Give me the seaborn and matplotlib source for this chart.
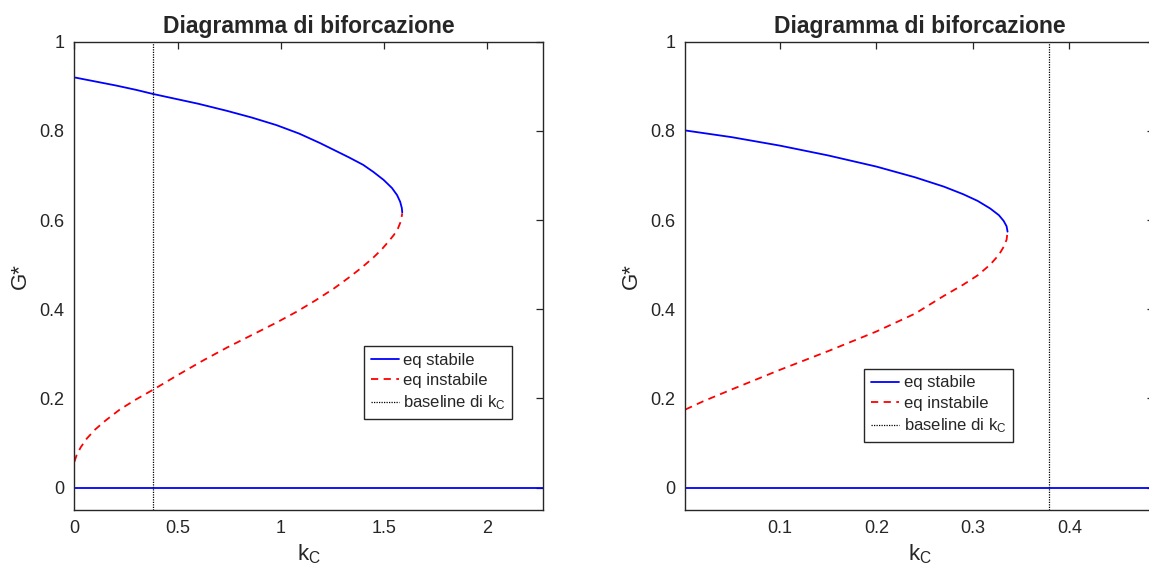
import numpy as np
import pandas as pd
import matplotlib
matplotlib.use("Agg")
import matplotlib.pyplot as plt
import seaborn as sns
from matplotlib.lines import Line2D

sns.set_style("white")
plt.rcParams["font.family"] = ["Liberation Sans", "DejaVu Sans"]
plt.rcParams["mathtext.fontset"] = "custom"
plt.rcParams["mathtext.rm"] = "Liberation Sans"
plt.rcParams["mathtext.it"] = "Liberation Sans:italic"

# ---- left panel: equilibrium branches G*(k_C) ----
left_stable_k = [0.00, 0.10, 0.20, 0.30, 0.38, 0.50, 0.60, 0.74, 0.86, 0.98, 1.09,
                 1.19, 1.26, 1.33, 1.40, 1.45, 1.50, 1.54, 1.565, 1.58, 1.588, 1.59]
left_stable_G = [0.920, 0.911, 0.902, 0.892, 0.883, 0.871, 0.861, 0.845, 0.830, 0.813, 0.794,
                 0.773, 0.757, 0.741, 0.724, 0.708, 0.690, 0.672, 0.656, 0.641, 0.627, 0.617]
left_unstable_k = [0.00, 0.01, 0.03, 0.06, 0.10, 0.15, 0.22, 0.30, 0.38, 0.50, 0.62,
                   0.74, 0.86, 0.98, 1.08, 1.17, 1.26, 1.34, 1.40, 1.45, 1.49, 1.52,
                   1.55, 1.57, 1.583, 1.59]
left_unstable_G = [0.058, 0.072, 0.090, 0.110, 0.130, 0.150, 0.175, 0.198, 0.219, 0.252, 0.284,
                   0.314, 0.342, 0.370, 0.395, 0.420, 0.447, 0.474, 0.496, 0.516, 0.534, 0.550,
                   0.567, 0.582, 0.597, 0.615]
left_xlim = [0.0, 2.274]

# ---- right panel ----
right_stable_k = [0.002, 0.05, 0.10, 0.15, 0.20, 0.24, 0.27, 0.29, 0.305, 0.318,
                  0.327, 0.332, 0.335, 0.336]
right_stable_G = [0.801, 0.786, 0.767, 0.745, 0.720, 0.696, 0.675, 0.658, 0.643, 0.626,
                  0.611, 0.598, 0.586, 0.574]
right_unstable_k = [0.002, 0.02, 0.05, 0.10, 0.15, 0.20, 0.24, 0.27, 0.29, 0.305,
                    0.318, 0.327, 0.332, 0.335, 0.336]
right_unstable_G = [0.175, 0.193, 0.220, 0.264, 0.306, 0.350, 0.390, 0.430, 0.455, 0.476,
                    0.500, 0.522, 0.540, 0.556, 0.574]
right_xlim = [0.002, 0.488]

kC_baseline = 0.379
y_ticks = [0, 0.2, 0.4, 0.6, 0.8, 1]
y_tick_labels = ["0", "0.2", "0.4", "0.6", "0.8", "1"]
left_x_ticks = [0, 0.5, 1, 1.5, 2]
left_x_labels = ["0", "0.5", "1", "1.5", "2"]
right_x_ticks = [0.1, 0.2, 0.3, 0.4]
right_x_labels = ["0.1", "0.2", "0.3", "0.4"]

title = "Diagramma di biforcazione"
legend_labels = ["eq stabile", "eq instabile", r"baseline di k$_{\mathrm{C}}$"]

AX_COLOR = "#262626"
DASH = (0, (4, 3))
DOT = (0, (1, 1))

fig = plt.figure(figsize=(11.49, 5.80), dpi=100)
ax_left = fig.add_axes([0.0648, 0.121, 0.408, 0.807])
ax_right = fig.add_axes([0.5965, 0.121, 0.408, 0.807])


def draw_panel(ax, sk, sG, uk, uG, xlim, xticks, xlabels, legend_anchor):
    stable = pd.DataFrame({"k": sk, "G": sG})
    unstable = pd.DataFrame({"k": uk, "G": uG})
    zero = pd.DataFrame({"k": xlim, "G": [0.0, 0.0]})
    sns.lineplot(data=stable, x="k", y="G", ax=ax, color="#0000ff", lw=1.3,
                 sort=False, estimator=None)
    sns.lineplot(data=unstable, x="k", y="G", ax=ax, color="#ff0000", lw=1.3,
                 linestyle=DASH, sort=False, estimator=None)
    sns.lineplot(data=zero, x="k", y="G", ax=ax, color="#0000ff", lw=1.3,
                 sort=False, estimator=None)
    ax.axvline(kC_baseline, color="black", lw=0.9, linestyle=DOT)

    ax.set_xlim(xlim)
    ax.set_ylim(-0.05, 1)
    ax.set_xticks(xticks)
    ax.set_xticklabels(xlabels)
    ax.set_yticks(y_ticks)
    ax.set_yticklabels(y_tick_labels)
    ax.tick_params(direction="in", length=5, width=0.9, color=AX_COLOR,
                   labelcolor=AX_COLOR, labelsize=13, top=True, right=True,
                   pad=7)
    for sp in ax.spines.values():
        sp.set_visible(True)
        sp.set_color(AX_COLOR)
        sp.set_linewidth(1.0)
    ax.set_title(title, fontsize=16.5, fontweight="bold", pad=6)
    ax.set_xlabel(r"k$_{\mathrm{C}}$", fontsize=16, color=AX_COLOR, labelpad=4)
    ax.set_ylabel("G*", fontsize=16, color=AX_COLOR, labelpad=6)

    handles = [
        Line2D([], [], color="#0000ff", lw=1.3),
        Line2D([], [], color="#ff0000", lw=1.3, linestyle=DASH),
        Line2D([], [], color="black", lw=0.9, linestyle=DOT),
    ]
    leg = ax.legend(handles, legend_labels, loc="lower left",
                    bbox_to_anchor=legend_anchor, fontsize=12, frameon=True,
                    fancybox=False, edgecolor=AX_COLOR, framealpha=1,
                    handlelength=1.7, handletextpad=0.25, borderpad=0.4,
                    labelspacing=0.33, borderaxespad=0)
    leg.get_frame().set_linewidth(1.0)


draw_panel(ax_left, left_stable_k, left_stable_G, left_unstable_k, left_unstable_G,
           left_xlim, left_x_ticks, left_x_labels, (0.6176, 0.194))
draw_panel(ax_right, right_stable_k, right_stable_G, right_unstable_k, right_unstable_G,
           right_xlim, right_x_ticks, right_x_labels, (0.3818, 0.1454))

fig.savefig("out.png", dpi=100)
